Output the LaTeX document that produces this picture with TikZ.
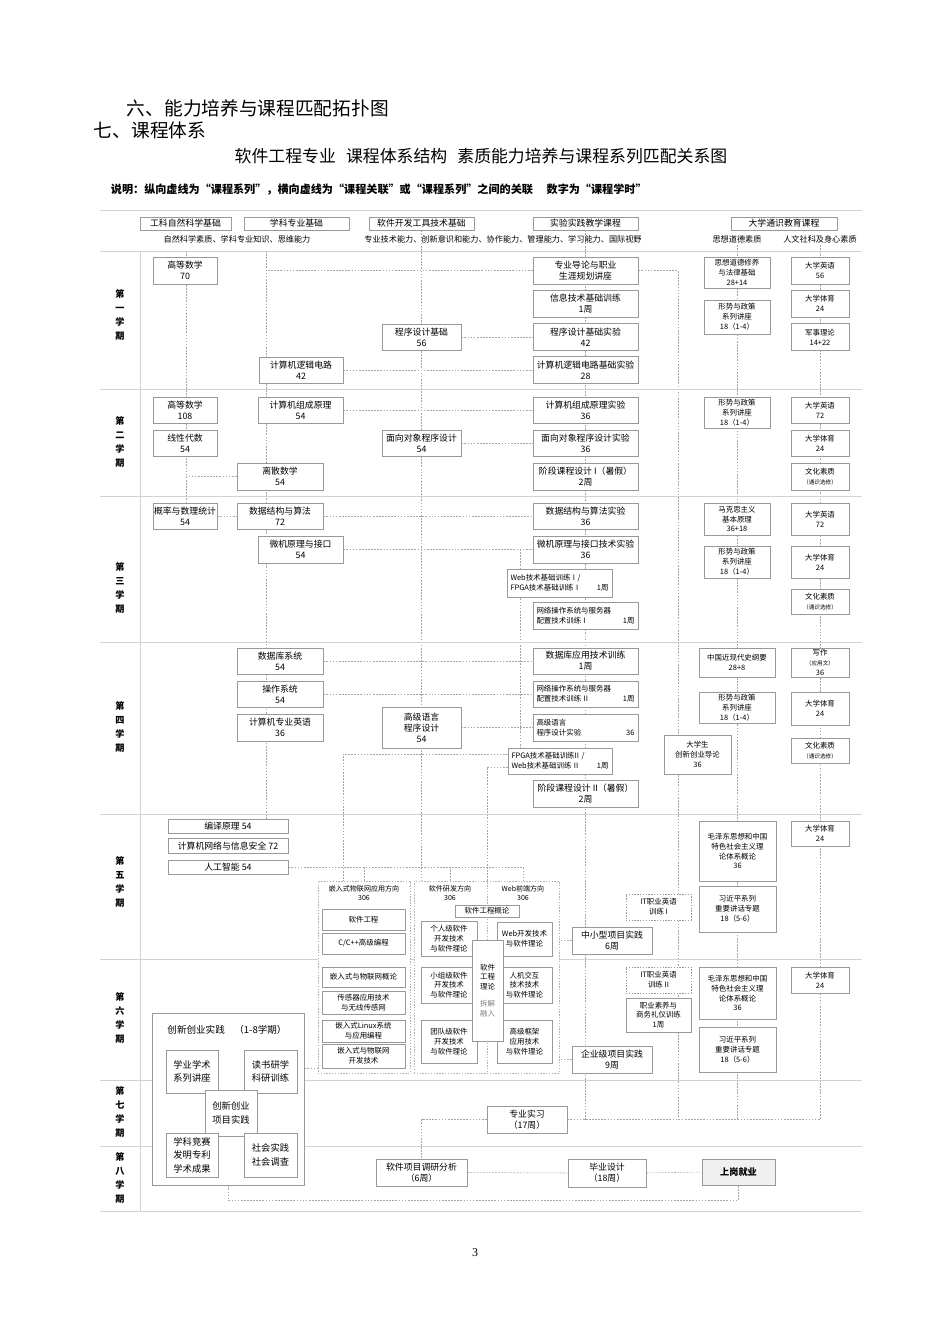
\documentclass[tikz,border=0pt]{standalone}
\usepackage{fontspec}
\setmainfont{Noto Sans CJK SC}
\newfontfamily\serifnum{Liberation Serif}
\usetikzlibrary{backgrounds}

\begin{document}
\begin{tikzpicture}[x=0.25mm,y=-0.25mm,
 bx/.style={draw=gray!80,fill=white,line width=0.5pt,align=center,inner sep=0.5pt,font=\fontsize{6.3}{7.8}\selectfont},
 sbx/.style={bx,font=\fontsize{5.3}{7}\selectfont},
 ibx/.style={bx,font=\fontsize{6.6}{9.6}\selectfont},
 wh/.style 2 args={minimum width=#1*0.25mm,minimum height=#2*0.25mm},
 tw/.style={text width=#1*0.25mm,align=left},
 grp/.style={draw=gray!60,fill=white,line width=0.4pt,dash pattern=on 1pt off 1pt},
 lk/.style={gray!70,line width=0.4pt,dash pattern=on 1.2pt off 1pt},
 frm/.style={gray!35,line width=0.7pt},
 term/.style={align=center,font=\bfseries\fontsize{6.5}{10}\selectfont},
 hint/.style={align=center,font=\fontsize{5.8}{7}\selectfont}]
\useasboundingbox (0,0) rectangle (950,1344);

\foreach \y in {210,251,389,496,642,814,959,1080,1146,1211} \draw[frm] (100,\y) -- (862,\y);
\draw[frm] (140,251) -- (140,1211);

\node[anchor=west,font=\fontsize{13.3}{13}\selectfont] (t6) at (122,108) {六、能力培养与课程匹配拓扑图};
\node[anchor=west,font=\fontsize{13.3}{13}\selectfont] (t7) at (89,130) {七、课程体系};
\node[font=\fontsize{12}{12}\selectfont] (ttl) at (481,156) {软件工程专业\hspace{0.6em}课程体系结构\hspace{0.6em}素质能力培养与课程系列匹配关系图};
\node[anchor=west,font=\bfseries\fontsize{7.9}{8}\selectfont] (note) at (106,190) {说明：纵向虚线为“课程系列”，横向虚线为“课程关联”或“课程系列”之间的关联\quad\ 数字为“课程学时”};

\node[term] (q1) at (120,315) {第\\一\\学\\期};
\node[term] (q2) at (120,442) {第\\二\\学\\期};
\node[term] (q3) at (120,588) {第\\三\\学\\期};
\node[term] (q4) at (120,727) {第\\四\\学\\期};
\node[term] (q5) at (120,882) {第\\五\\学\\期};
\node[term] (q6) at (120,1018) {第\\六\\学\\期};
\node[term] (q7) at (120,1112) {第\\七\\学\\期};
\node[term] (q8) at (120,1178) {第\\八\\学\\期};

\node[bx,wh={91}{13}] (h1) at (185.5,223.5) {工科自然科学基础};
\node[bx,wh={105}{13}] (h2) at (296.5,223.5) {学科专业基础};
\node[bx,wh={105}{13}] (h3) at (421.5,223.5) {软件开发工具技术基础};
\node[bx,wh={105}{13}] (h4) at (585.5,223.5) {实验实践教学课程};
\node[bx,wh={106}{13}] (h5) at (784,223.5) {大学通识教育课程};
\node[hint] (k1) at (237,239) {自然科学素质、学科专业知识、思维能力};
\node[hint] (k2) at (503,239) {专业技术能力、创新意识和能力、协作能力、管理能力、学习能力、国际视野};
\node[hint] (k3) at (737,239) {思想道德素质};
\node[hint] (k4) at (820,239) {人文社科及身心素质};

% first term
\node[bx,wh={64}{27}] (m1) at (185,270.5) {高等数学\\70};
\node[bx,wh={79}{26}] (cx1) at (421.5,337) {程序设计基础\\56};
\node[bx,wh={84}{26}] (lj) at (301,370) {计算机逻辑电路\\42};
\node[bx,wh={105}{27}] (e1) at (585.5,270.5) {专业导论与职业\\生涯规划讲座};
\node[bx,wh={105}{27}] (e2) at (585.5,303.5) {信息技术基础训练\\1周};
\node[bx,wh={105}{27}] (e3) at (585.5,337) {程序设计基础实验\\42};
\node[bx,wh={105}{27}] (e4) at (585.5,370) {计算机逻辑电路基础实验\\28};
\node[sbx,wh={66}{31}] (s1) at (737,272.5) {思想道德修养\\与法律基础\\28+14};
\node[sbx,wh={66}{34}] (s2) at (737,317) {形势与政策\\系列讲座\\18（1-4）};
\node[sbx,wh={58}{27}] (g1) at (820,270.5) {大学英语\\56};
\node[sbx,wh={58}{27}] (g2) at (820,303.5) {大学体育\\24};
\node[sbx,wh={58}{27}] (g3) at (820,337) {军事理论\\14+22};

% second term
\node[bx,wh={64}{26}] (m2) at (185,410) {高等数学\\108};
\node[bx,wh={64}{26}] (xd) at (185,443) {线性代数\\54};
\node[bx,wh={85}{26}] (zc) at (300.5,410) {计算机组成原理\\54};
\node[bx,wh={79}{26}] (mx) at (421.5,443) {面向对象程序设计\\54};
\node[bx,wh={86}{27}] (ls) at (280,476.5) {离散数学\\54};
\node[bx,wh={105}{26}] (e5) at (585.5,410) {计算机组成原理实验\\36};
\node[bx,wh={105}{26}] (e6) at (585.5,443) {面向对象程序设计实验\\36};
\node[bx,wh={105}{27}] (e7) at (585.5,476.5) {阶段课程设计 I（暑假）\\2周};
\node[sbx,wh={66}{31}] (s3) at (737,412.5) {形势与政策\\系列讲座\\18（1-4）};
\node[sbx,wh={58}{26}] (g4) at (820,410) {大学英语\\72};
\node[sbx,wh={58}{26}] (g5) at (820,443) {大学体育\\24};
\node[sbx,wh={58}{27}] (g6) at (820,476.5) {文化素质\\{\fontsize{4}{5}\selectfont（通识选修）}};

% third term
\node[bx,wh={64}{26}] (gl) at (185,516) {概率与数理统计\\54};
\node[bx,wh={86}{26}] (sj) at (280,516) {数据结构与算法\\72};
\node[bx,wh={85}{27}] (wj) at (300.5,549.5) {微机原理与接口\\54};
\node[bx,wh={105}{26}] (e8) at (585.5,516) {数据结构与算法实验\\36};
\node[bx,wh={105}{27}] (e9) at (585.5,549.5) {微机原理与接口技术实验\\36};
\node[sbx,wh={105}{28},tw={98}] (e10) at (559.5,583) {Web技术基础训练 I /\\FPGA技术基础训练 I\hfill 1周\ \ };
\node[sbx,wh={105}{27},tw={98}] (e11) at (585.5,615.5) {网络操作系统与服务器\\配置技术训练 I\hfill 1周};
\node[sbx,wh={66}{32}] (s4) at (737,519) {马克思主义\\基本原理\\36+18};
\node[sbx,wh={66}{32}] (s5) at (737,562) {形势与政策\\系列讲座\\18（1-4）};
\node[sbx,wh={58}{32}] (g7) at (820,519) {大学英语\\72};
\node[sbx,wh={58}{32}] (g8) at (820,562) {大学体育\\24};
\node[sbx,wh={58}{25}] (g9) at (820,601.5) {文化素质\\{\fontsize{4}{5}\selectfont（通识选修）}};

% fourth term
\node[bx,wh={86}{26}] (sk) at (280,661) {数据库系统\\54};
\node[bx,wh={86}{26}] (cz) at (280,694) {操作系统\\54};
\node[bx,wh={86}{27}] (yy) at (280,727.5) {计算机专业英语\\36};
\node[bx,wh={79}{41}] (gy) at (421.5,727.5) {高级语言\\程序设计\\54};
\node[bx,wh={105}{26}] (e12) at (585.5,661) {数据库应用技术训练\\1周};
\node[sbx,wh={105}{26},tw={98}] (e13) at (585.5,694) {网络操作系统与服务器\\配置技术训练 II\hfill 1周};
\node[sbx,wh={105}{27},tw={98}] (e14) at (585.5,727.5) {高级语言\\程序设计实验\hfill 36};
\node[sbx,wh={104}{26},tw={97}] (e15) at (560,761) {FPGA技术基础训练II /\\Web技术基础训练 II\hfill 1周\ \ };
\node[bx,wh={105}{27}] (e16) at (585.5,794) {阶段课程设计 II（暑假）\\2周};
\node[sbx,wh={76}{29}] (s6) at (737,662.5) {中国近现代史纲要\\28+8};
\node[sbx,wh={76}{31}] (s7) at (737,707.5) {形势与政策\\系列讲座\\18（1-4）};
\node[sbx,wh={67}{39}] (cy) at (697.5,754.5) {大学生\\创新创业导论\\36};
\node[sbx,wh={58}{29}] (g10) at (820,662.5) {写作\\{\fontsize{4}{5}\selectfont（应用文）}\\36};
\node[sbx,wh={58}{33}] (g11) at (820,708.5) {大学体育\\24};
\node[sbx,wh={58}{25}] (g12) at (820,750.5) {文化素质\\{\fontsize{4}{5}\selectfont（通识选修）}};

% fifth and sixth term
\node[bx,wh={120}{14}] (by) at (228,826) {编译原理 54};
\node[bx,wh={120}{15}] (wl) at (228,846) {计算机网络与信息安全 72};
\node[bx,wh={120}{14}] (rg) at (228,867) {人工智能 54};
\node[grp,wh={92}{192}] (gA) at (364,977) {};
\node[grp,wh={73}{192}] (gB) at (450.5,977) {};
\node[grp,wh={72}{192}] (gC) at (523,977) {};
\node[hint,font=\fontsize{5}{7}\selectfont] (la) at (364,893) {嵌入式物联网应用方向\\306};
\node[hint,font=\fontsize{5}{7}\selectfont] (lb) at (450,893) {软件研发方向\\306};
\node[hint,font=\fontsize{5}{7}\selectfont] (lc) at (523,893) {Web前端方向\\306};
\node[sbx,wh={64}{12}] (rgl) at (487,911) {软件工程概论};
\node[sbx,wh={83}{21}] (a1) at (363.5,919.5) {软件工程};
\node[sbx,wh={83}{21}] (a2) at (363.5,943.5) {C/C++高级编程};
\node[sbx,wh={83}{20}] (a3) at (363.5,977) {嵌入式与物联网概论};
\node[sbx,wh={83}{23}] (a4) at (363.5,1002.5) {传感器应用技术\\与无线传感网};
\node[sbx,wh={83}{22}] (a5) at (363.5,1031) {嵌入式Linux系统\\与应用编程};
\node[sbx,wh={83}{24}] (a6) at (363.5,1056) {嵌入式与物联网\\开发技术};
\node[sbx,wh={56}{35}] (b1) at (449,938.5) {个人级软件\\开发技术\\与软件理论};
\node[sbx,wh={56}{36}] (b2) at (449,985) {小组级软件\\开发技术\\与软件理论};
\node[sbx,wh={56}{43}] (b3) at (449,1041.5) {团队级软件\\开发技术\\与软件理论};
\node[sbx,wh={55}{34}] (c1) at (524.5,939) {Web开发技术\\与软件理论};
\node[sbx,wh={55}{36}] (c2) at (524.5,985) {人机交互\\技术技术\\与软件理论};
\node[sbx,wh={55}{43}] (c3) at (524.5,1041.5) {高级框架\\应用技术\\与软件理论};
\node[sbx,wh={31}{101}] (rl) at (487.5,990.5) {软件\\工程\\理论\\[5pt]\textcolor{gray}{拆解}\\\textcolor{gray}{融入}};
\node[bx,wh={80}{27}] (zx) at (612,940.5) {中小型项目实践\\6周};
\node[sbx,wh={65}{26},dash pattern=on 1pt off 1pt] (it1) at (658.5,907) {IT职业英语\\训练 I};
\node[sbx,wh={77}{60}] (mz1) at (737.5,851) {毛泽东思想和中国\\特色社会主义理\\论体系概论\\36};
\node[sbx,wh={77}{46}] (xj1) at (737.5,909) {习近平系列\\重要讲话专题\\18（5-6）};
\node[sbx,wh={58}{25}] (g13) at (820,833.5) {大学体育\\24};
\node[sbx,wh={65}{26},dash pattern=on 1pt off 1pt] (it2) at (658.5,980) {IT职业英语\\训练 II};
\node[sbx,wh={65}{34}] (zy) at (658.5,1015) {职业素养与\\商务礼仪训练\\1周};
\node[sbx,wh={77}{52}] (mz2) at (737.5,993) {毛泽东思想和中国\\特色社会主义理\\论体系概论\\36};
\node[sbx,wh={77}{45}] (xj2) at (737.5,1049.5) {习近平系列\\重要讲话专题\\18（5-6）};
\node[sbx,wh={58}{26}] (g14) at (820,980) {大学体育\\24};
\node[bx,wh={80}{27}] (qy) at (612,1059.5) {企业级项目实践\\9周};

\node[bx,wh={152}{172}] (cx) at (228,1099) {};
\node[font=\fontsize{6.8}{8}\selectfont] (cxt) at (227,1030) {创新创业实践\quad（1-8学期）};
\node[ibx,wh={52}{43}] (x1) at (192,1071.5) {学业学术\\系列讲座};
\node[ibx,wh={53}{43}] (x2) at (270.5,1071.5) {读书研学\\科研训练};
\node[ibx,wh={52}{46}] (x3) at (231,1113) {创新创业\\项目实践};
\node[ibx,wh={52}{44}] (x4) at (192,1155) {学科竞赛\\发明专利\\学术成果};
\node[ibx,wh={53}{44}] (x5) at (270.5,1155) {社会实践\\社会调查};

% seventh and eighth term
\node[bx,wh={80}{27}] (sx) at (527,1119.5) {专业实习\\（17周）};
\node[bx,wh={91}{27}] (dy) at (421.5,1172.5) {软件项目调研分析\\（6周）};
\node[bx,wh={78}{28}] (bs) at (607,1173) {毕业设计\\（18周）};
\node[bx,wh={73}{26},fill=gray!12,font=\bfseries\fontsize{6.5}{8}\selectfont] (sg) at (738.5,1172) {上岗就业};

\node[font=\serifnum\fontsize{8.5}{9}\selectfont] (pg) at (475,1253) {3};

\coordinate (v1) at (186,251);
\coordinate (v2) at (266,251);
\coordinate (v5) at (678,271);
\coordinate (v6) at (737,245);
\coordinate (v7) at (820,245);
\coordinate (v8) at (520,549);
\coordinate (v9) at (343,754);
\coordinate (v10) at (487,767);

\begin{pgfonlayer}{background}
\draw[lk] (v1) -- (v1 |- gl.north);
\draw[lk] (v2) -- (v2 |- by.north);
\draw[lk] (h3.south) -- (h3.south |- gB.north);
\draw[lk] (h4.south) -- (h4.south |- sx.east);
\draw[lk] (e1.east) -- (e1.east -| v5) -- (v5 |- sx.east);
\draw[lk] (v6) -- (v6 |- sx.east);
\draw[lk] (v7) -- (v7 |- sx.east);
\draw[lk] (sx.east) -- (sx.east -| v7);
\draw[lk] (sx.west) -- (sx.west -| dy.north) -- (dy.north);
\draw[lk] (e1.west) -- (e1.west -| v2);
\draw[lk] (cx1.east) -- (e3.west);
\draw[lk] (lj.east) -- (e4.west);
\draw[lk] (zc.east) -- (e5.west);
\draw[lk] (mx.east) -- (e6.west);
\draw[lk] (ls.west) -- (ls.west -| v1);
\draw[lk] (gl.east) -- (sj.west);
\draw[lk] (sj.east) -- (e8.west);
\draw[lk] (wj.east) -- (e9.west);
\draw[lk] (v8) -- (v8 |- e15.north);
\draw[lk] (sk.east) -- (e12.west);
\draw[lk] (cz.east) -- (e13.west);
\draw[lk] (gy.east) -- (e14.west);
\draw[lk] (e15.west |- v9) -- (v9) -- (v9 |- gA.north);
\draw[lk] (e15.west |- v10) -- (v10) -- (v10 |- gB.north);
\draw[lk] (rg.east) -- (rg.east -| gC.north) -- (gC.north);
\draw[lk] (rg.east -| gA.north) -- (gA.north);
\draw[lk] (rg.east -| gB.north) -- (gB.north);
\draw[lk] (zx.west) -- (zx.west -| gC.east);
\draw[lk] (qy.west) -- (qy.west -| gC.east);
\draw[lk] (cx.east |- a6.south) -- (gA.west |- a6.south);
\draw[lk] (dy.east) -- (bs.west);
\draw[lk] (bs.east) -- (sg.west);
\draw[lk] (cx.south) -- ++(0,15) -| (sg.south);
\end{pgfonlayer}
\end{tikzpicture}
\end{document}
